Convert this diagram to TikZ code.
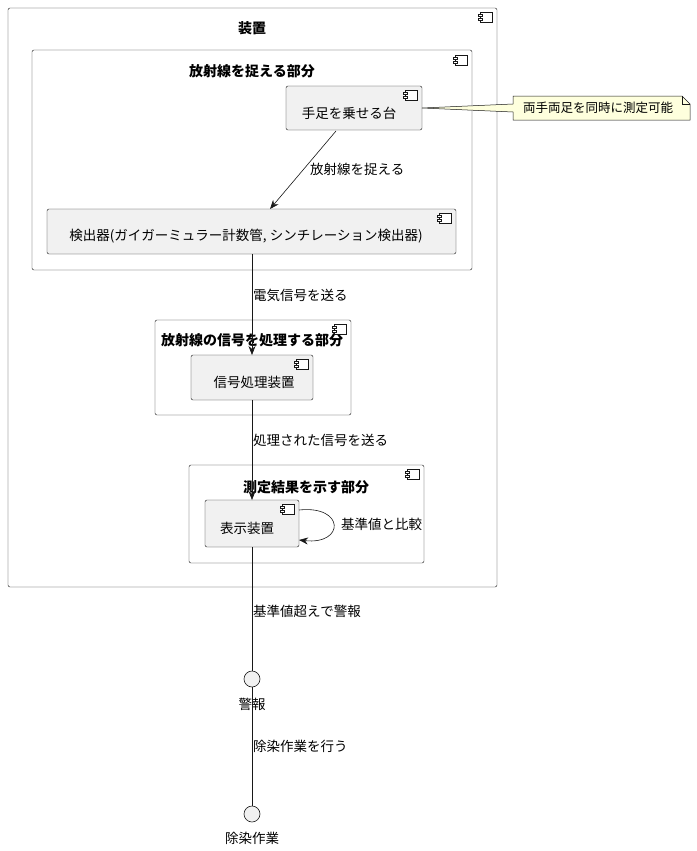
\documentclass[tikz,border=0pt]{standalone}
\usepackage{fontspec}
\setmainfont{Noto Sans CJK JP}
\usetikzlibrary{arrows.meta,calc}
\definecolor{boxfill}{HTML}{F1F1F1}
\definecolor{notefill}{HTML}{FEFFDD}
\definecolor{edge}{HTML}{181818}
\tikzset{
  part/.style={draw=edge,fill=white,rounded corners=2pt},
  comp/.style={draw=edge,fill=boxfill,rounded corners=2pt},
  lbl/.style={font=\fontsize{13.5}{15}\selectfont,text=black,inner sep=0pt},
  ttl/.style={font=\bfseries\fontsize{14}{16}\selectfont,inner sep=0pt},
  link/.style={draw=edge,line width=0.6pt},
  arr/.style={link,-{Stealth[length=9pt,width=7pt]}}
}
\newcommand{\compicon}[1]{%
  \draw[edge,fill=white,line width=0.5pt] ($#1+(-6,-5)$) rectangle ($#1+(6,5)$);
  \draw[edge,fill=white,line width=0.5pt] ($#1+(-8,-3)$) rectangle ($#1+(-4,-1)$);
  \draw[edge,fill=white,line width=0.5pt] ($#1+(-8,1)$) rectangle ($#1+(-4,3)$);}
\begin{document}
\begin{tikzpicture}[x=1pt,y=-1pt]
  \useasboundingbox (0,0) rectangle (696,851);
  % containers
  \draw[part] (8,8) rectangle (497,587);
  \node[ttl] (device) at (252,28) {装置};
  \compicon{(486,17)}
  \draw[part] (32,50) rectangle (472,270);
  \node[ttl] (catch) at (252,71) {放射線を捉える部分};
  \compicon{(461,60)}
  \draw[part] (155,320) rectangle (351,415);
  \node[ttl] (proc) at (252,340) {放射線の信号を処理する部分};
  \compicon{(340,329)}
  \draw[part] (189,465) rectangle (424,563);
  \node[ttl] (result) at (306,487) {測定結果を示す部分};
  \compicon{(413,474)}

  % components
  \draw[comp] (286,86) rectangle (422,130);
  \node[lbl] (stand) at (349,113) {手足を乗せる台};
  \compicon{(411,95)}
  \draw[comp] (47,209) rectangle (456,254);
  \node[lbl] (detector) at (246,236) {検出器(ガイガーミュラー計数管, シンチレーション検出器)};
  \compicon{(445,218)}
  \draw[comp] (191,355) rectangle (313,400);
  \node[lbl] (signal) at (254,382) {信号処理装置};
  \compicon{(302,364)}
  \draw[comp] (205,500) rectangle (299,547);
  \node[lbl] (display) at (247,528) {表示装置};
  \compicon{(288,509)}

  % note
  \draw[draw=edge,fill=notefill,line width=0.5pt]
    (513,96) -- (682,96) -- (690,104) -- (690,120) -- (513,120) -- (513,112)
    -- (422,108) -- (513,104) -- cycle;
  \draw[draw=edge,line width=0.5pt] (682,96) -- (682,104) -- (690,104);
  \node[lbl,font=\fontsize{12.5}{14}\selectfont] (note) at (598,108) {両手両足を同時に測定可能};

  % interfaces
  \draw[draw=edge,fill=boxfill,line width=0.6pt] (252,679) circle (8);
  \node[lbl] (alarm) at (252,704) {警報};
  \draw[draw=edge,fill=boxfill,line width=0.6pt] (252,814) circle (8);
  \node[lbl] (decon) at (252,838) {除染作業};

  % connectors
  \coordinate (standout) at (336,131);
  \coordinate (detin) at (270,209);
  \draw[arr] (standout) -- (detin);
  \node[lbl,anchor=west] (l1) at (310,169) {放射線を捉える};
  \coordinate (detout) at (252,254);
  \coordinate (sigin) at (252,355);
  \draw[arr] (detout) -- (sigin);
  \node[lbl,anchor=west] (l2) at (253,295) {電気信号を送る};
  \coordinate (sigout) at (252,400);
  \coordinate (dispin) at (252,500);
  \draw[arr] (sigout) -- (dispin);
  \node[lbl,anchor=west] (l3) at (253,440) {処理された信号を送る};
  \coordinate (loopa) at (299,510);
  \coordinate (loopb) at (299,540);
  \draw[arr] (loopa) .. controls (345,505) and (345,545) .. (loopb);
  \node[lbl,anchor=west] (l4) at (341,524) {基準値と比較};
  \coordinate (dispout) at (252,547);
  \coordinate (alarmin) at (252,671);
  \draw[link] (dispout) -- (alarmin);
  \node[lbl,anchor=west] (l5) at (253,611) {基準値超えで警報};
  \coordinate (alarmout) at (252,687);
  \coordinate (deconin) at (252,806);
  \draw[link] (alarmout) -- (deconin);
  \node[lbl,anchor=west] (l6) at (253,746) {除染作業を行う};
\end{tikzpicture}
\end{document}
